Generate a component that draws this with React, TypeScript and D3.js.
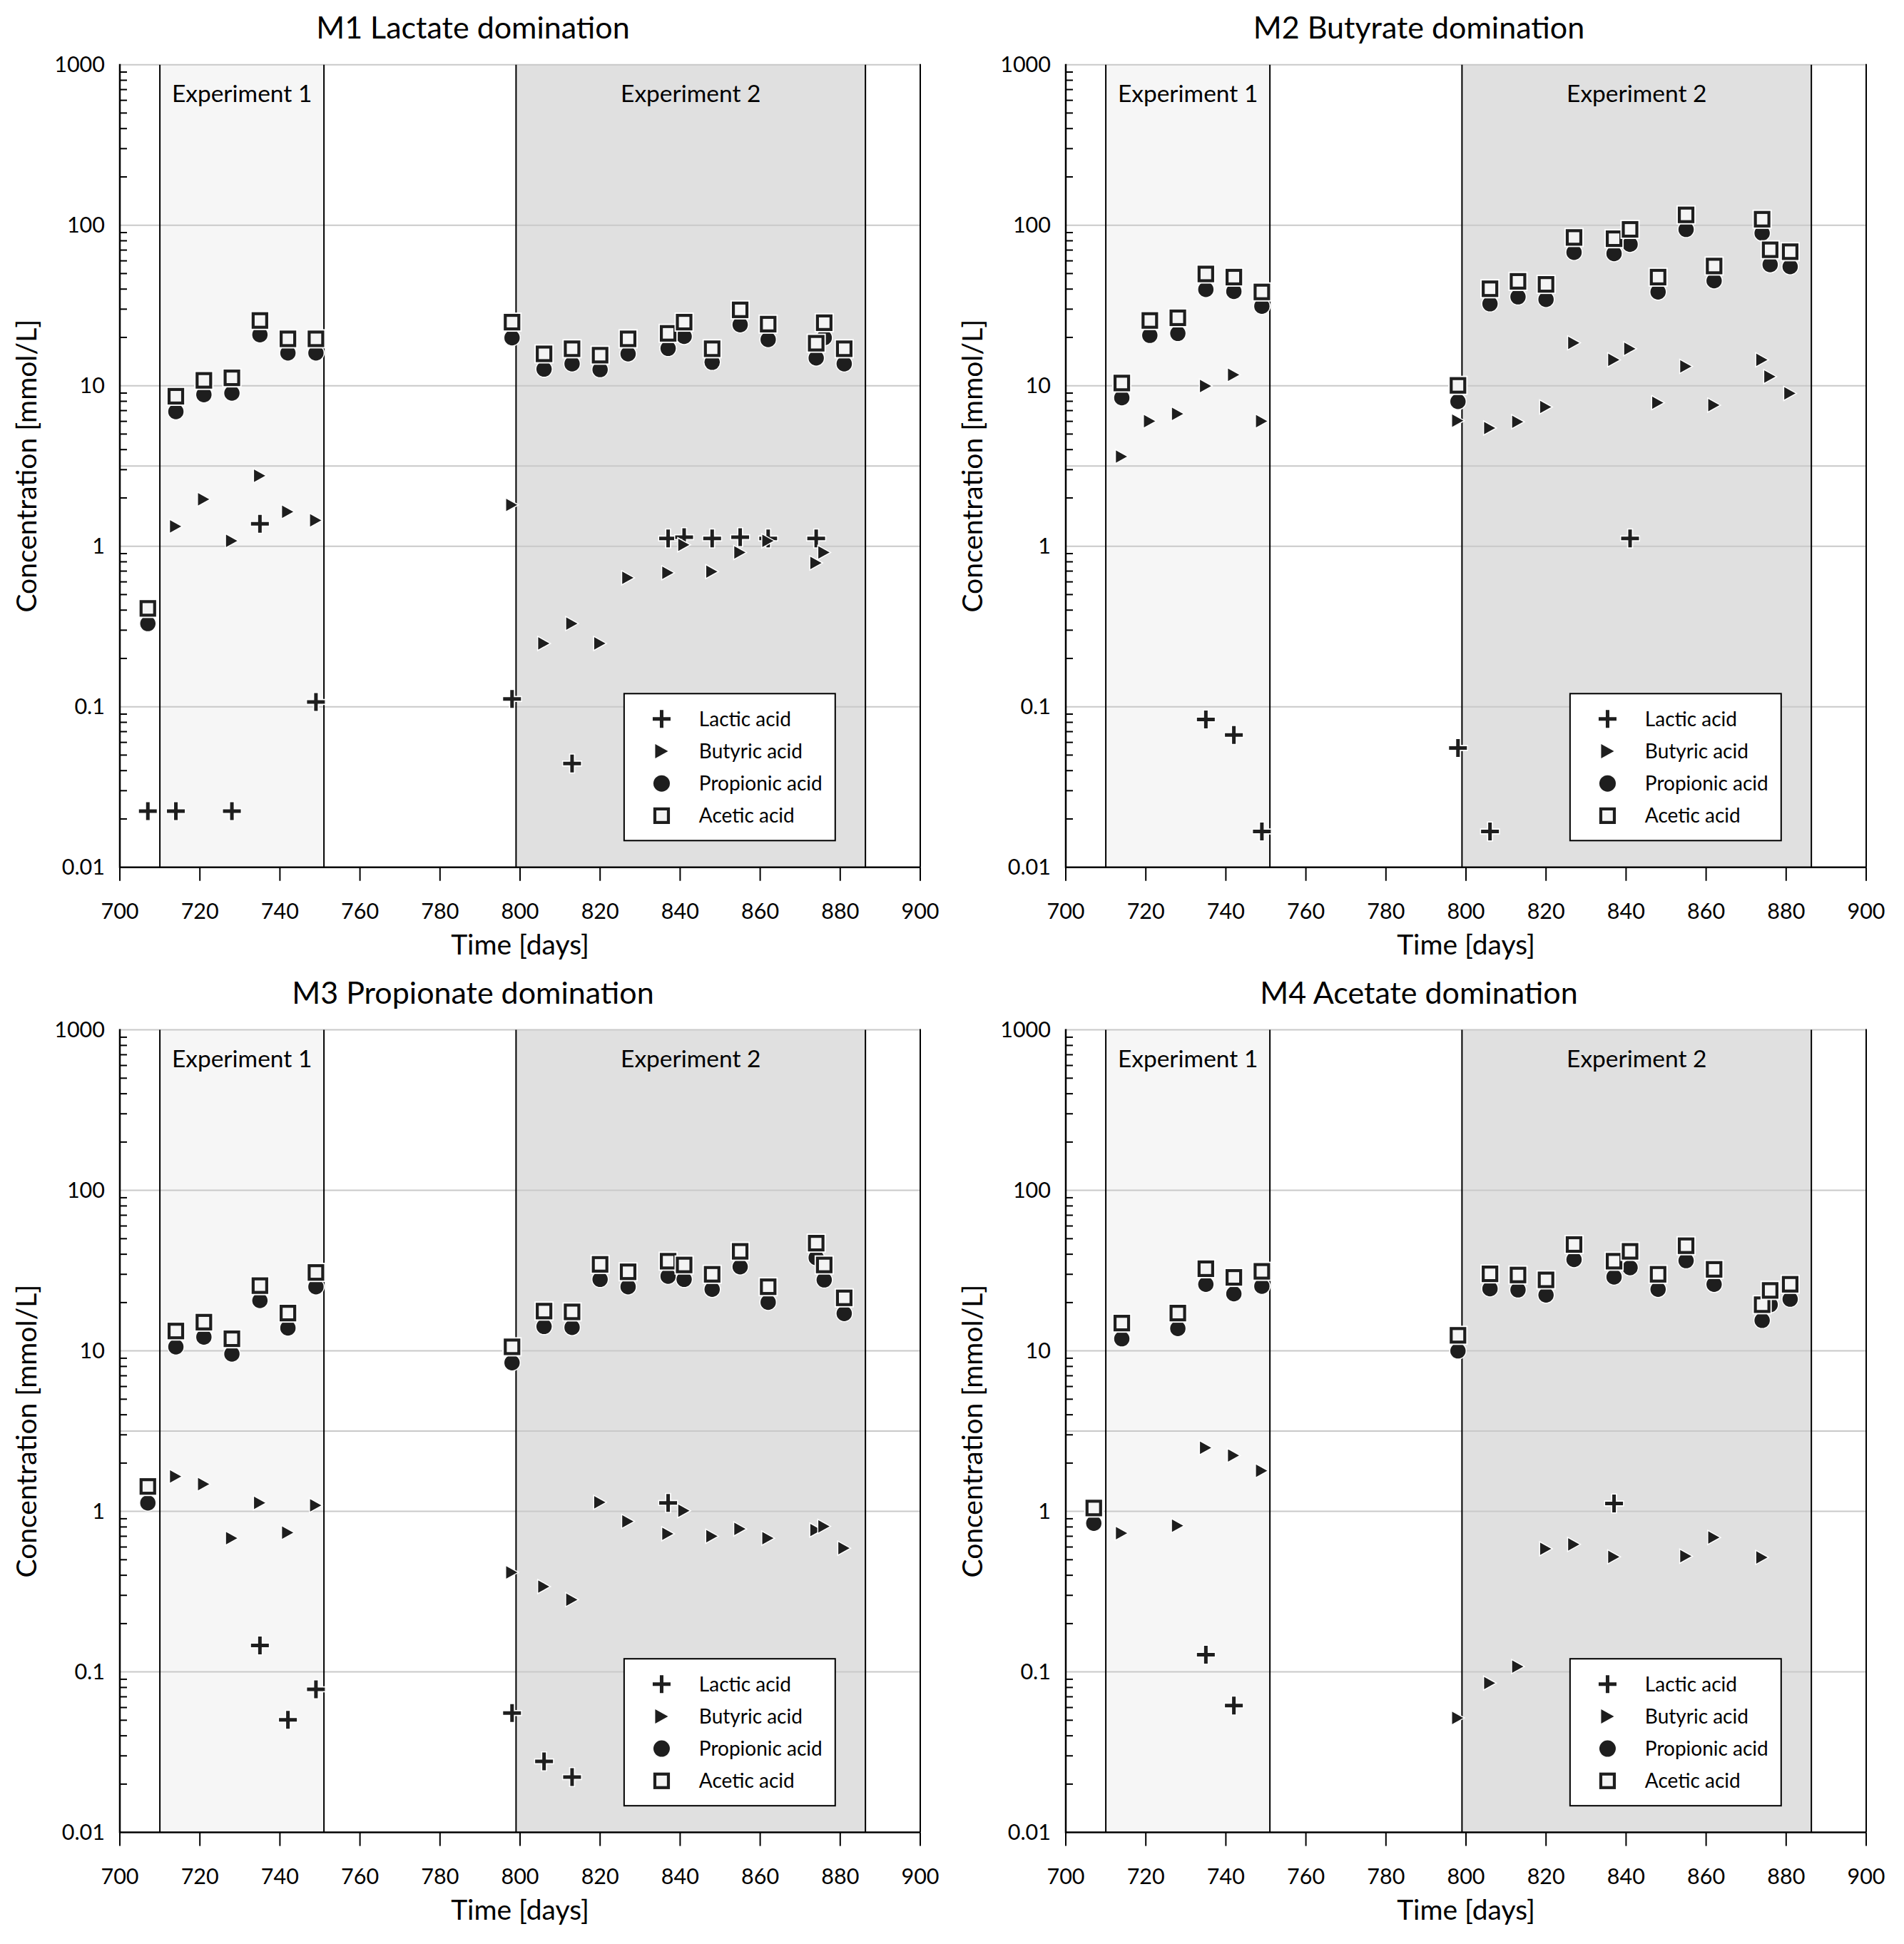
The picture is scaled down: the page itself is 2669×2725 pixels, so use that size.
import { useEffect } from "react";
import * as d3 from "d3";

// sampling days shared by every reactor (null = not measured / below detection)
const days = [707, 714, 721, 728, 735, 742, 749, 798, 806, 813, 820, 827, 837, 841, 848, 855, 862, 874, 876, 881];

const panelTitles = ["M1 Lactate domination", "M2 Butyrate domination", "M3 Propionate domination", "M4 Acetate domination"];
const seriesNames = ["Lactic acid", "Butyric acid", "Propionic acid", "Acetic acid"];
const xTicks = [700, 720, 740, 760, 780, 800, 820, 840, 860, 880, 900];
const yTickLabels = ["0.01", "0.1", "1", "10", "100", "1000"];

const expLabels = ["Experiment 1", "Experiment 2"];
const expStart = [710, 799];
const expEnd = [751, 886.3];

type V = number | null;

// M1
const m1Lactic: V[] = [0.0224, 0.0224, null, 0.0224, 1.38, null, 0.107, 0.112, null, 0.0443, null, null, 1.12, 1.14, 1.12, 1.14, 1.12, 1.12, null, null];
const m1Butyric: V[] = [null, 1.33, 1.96, 1.08, 2.75, 1.64, 1.45, 1.81, 0.248, 0.33, 0.248, 0.636, 0.683, 1.02, 0.695, 0.915, 1.08, 0.787, 0.915, null];
const m1Propionic: V[] = [0.33, 6.9, 8.8, 9.0, 20.8, 16.0, 16.0, 19.9, 12.7, 13.7, 12.6, 15.8, 17.1, 20.3, 14.0, 24.0, 19.4, 14.9, 19.9, 13.7];
const m1Acetic: V[] = [0.41, 8.6, 10.8, 11.2, 25.5, 19.6, 19.6, 24.9, 15.8, 17.0, 15.5, 19.6, 21.2, 24.9, 17.0, 29.7, 24.2, 18.4, 24.7, 17.0];

// M2
const m2Lactic: V[] = [null, null, null, null, 0.0833, 0.0667, 0.0167, 0.0554, 0.0167, null, null, null, null, 1.12, null, null, null, null, null, null];
const m2Butyric: V[] = [null, 3.62, 6.01, 6.68, 9.96, 11.7, 6.01, 6.06, 5.45, 5.96, 7.37, 18.5, 14.5, 17.0, 7.84, 13.2, 7.57, 14.5, 11.4, 8.96];
const m2Propionic: V[] = [null, 8.42, 20.6, 21.2, 39.8, 38.7, 31.3, 7.98, 32.4, 35.8, 34.5, 67.8, 66.6, 76.1, 38.4, 94.2, 45.1, 89.3, 56.8, 55.2];
const m2Acetic: V[] = [null, 10.4, 25.5, 26.5, 49.7, 47.5, 38.4, 10.05, 40.2, 44.7, 42.8, 83.9, 82.4, 94.2, 47.5, 116, 55.7, 109, 70.3, 68.4];

// M3
const m3Lactic: V[] = [null, null, null, null, 0.146, 0.0503, 0.0779, 0.0555, 0.0277, 0.0221, null, null, 1.13, null, null, null, null, null, null, null];
const m3Butyric: V[] = [null, 1.65, 1.48, 0.681, 1.13, 0.738, 1.09, 0.417, 0.34, 0.282, 1.14, 0.867, 0.725, 1.01, 0.7, 0.778, 0.681, 0.765, 0.807, 0.59];
const m3Propionic: V[] = [1.13, 10.6, 12.2, 9.57, 20.6, 13.9, 25.1, 8.44, 14.2, 14.0, 27.9, 25.1, 29.2, 27.9, 24.2, 33.4, 20.1, 38.1, 27.7, 17.1];
const m3Acetic: V[] = [1.43, 13.3, 15.1, 11.9, 25.5, 17.2, 30.8, 10.6, 17.7, 17.5, 34.6, 31.1, 36.2, 34.3, 30.0, 41.7, 25.1, 46.9, 34.3, 21.4];

// M4
const m4Lactic: V[] = [null, null, null, null, 0.128, 0.0618, null, null, null, null, null, null, 1.12, null, null, null, null, null, null, null];
const m4Butyric: V[] = [null, 0.732, null, 0.815, 2.49, 2.23, 1.79, 0.0517, 0.0852, 0.108, 0.585, 0.623, 0.521, null, null, 0.526, 0.688, 0.517, null, null];
const m4Propionic: V[] = [0.844, 11.9, null, 13.8, 26.0, 22.7, 25.3, 10.0, 24.4, 24.0, 22.3, 37.1, 28.9, 33.0, 24.2, 36.5, 26.0, 15.5, 19.4, 21.0];
const m4Acetic: V[] = [1.05, 14.9, null, 17.2, 32.5, 28.7, 31.3, 12.5, 30.2, 29.7, 27.7, 46.0, 36.2, 41.7, 30.0, 45.2, 32.2, 19.4, 23.8, 26.0];

const panelSeries = [
  [m1Lactic, m1Butyric, m1Propionic, m1Acetic],
  [m2Lactic, m2Butyric, m2Propionic, m2Acetic],
  [m3Lactic, m3Butyric, m3Propionic, m3Acetic],
  [m4Lactic, m4Butyric, m4Propionic, m4Acetic],
];

const W = 2669;
const H = 2725;
const FONT = "Lato, 'Open Sans', sans-serif";
const INK = "#1e1e1e";
const TEXT = "#000";
const GRID = "#c9c9c9";
const expFill = ["#f6f6f6", "#e0e0e0"];

const plotW = 1122;
const plotH = 1125;
const lefts = [168, 1494];
const tops = [90.7, 1443.6];

function Marker({ kind, x, y, halo = true }: { kind: number; x: number; y: number; halo?: boolean }) {
  if (kind === 0) {
    const a = 12.5;
    const d = `M${x - a},${y}H${x + a}M${x},${y - a}V${y + a}`;
    return (
      <g>
        {halo && <path d={`M${x - a - 1.5},${y}H${x + a + 1.5}M${x},${y - a - 1.5}V${y + a + 1.5}`} stroke="#fff" strokeWidth={8.5} />}
        <path d={d} stroke={INK} strokeWidth={5} />
      </g>
    );
  }
  if (kind === 1) {
    const w = 18, h = 20;
    return (
      <path
        d={`M${x - w / 2},${y - h / 2}L${x + w / 2},${y}L${x - w / 2},${y + h / 2}Z`}
        fill={INK}
        stroke={halo ? "#fff" : "none"}
        strokeWidth={1.5}
      />
    );
  }
  if (kind === 2) {
    return <circle cx={x} cy={y} r={11.5} fill={INK} stroke={halo ? "#fff" : "none"} strokeWidth={1.5} />;
  }
  const s = 19;
  return (
    <g>
      {halo && <rect x={x - s / 2} y={y - s / 2} width={s} height={s} fill="none" stroke="#fff" strokeWidth={8} />}
      <rect x={x - s / 2} y={y - s / 2} width={s} height={s} fill="#f4f4f4" stroke={INK} strokeWidth={4.2} />
    </g>
  );
}

function Panel({ idx }: { idx: number }) {
  const left = lefts[idx % 2];
  const top = tops[Math.floor(idx / 2)];
  const x = d3.scaleLinear().domain([700, 900]).range([left, left + plotW]);
  const y = d3.scaleLog().domain([0.01, 1000]).range([top + plotH, top]);
  const bottom = top + plotH;
  const majors = yTickLabels.map(Number);
  const minors = y.ticks().filter((t) => !majors.some((m) => Math.abs(m - t) / m < 1e-6));
  const series = panelSeries[idx];

  // legend box placed in data space (days 826–878.75)
  const lgX = x(826);
  const lgW = x(878.75) - lgX;
  const lgY = top + 881.6;
  const lgH = 206;

  return (
    <g fontFamily={FONT}>
      <text x={left + plotW / 2 - 66} y={top - 37} textAnchor="middle" fontSize={43} fill={TEXT}>
        {panelTitles[idx]}
      </text>

      {expLabels.map((_, i) => (
        <rect key={i} x={x(expStart[i])} y={top} width={x(expEnd[i]) - x(expStart[i])} height={plotH} fill={expFill[i]} />
      ))}

      {majors.slice(1).map((m) => (
        <line key={m} x1={left} x2={left + plotW} y1={y(m)} y2={y(m)} stroke={GRID} strokeWidth={2} />
      ))}
      <line x1={left} x2={left + plotW} y1={top + plotH / 2} y2={top + plotH / 2} stroke={GRID} strokeWidth={2} />

      {expLabels.map((_, i) => (
        <g key={i}>
          <line x1={x(expStart[i])} x2={x(expStart[i])} y1={top} y2={bottom} stroke="#000" strokeWidth={2} />
          <line x1={x(expEnd[i])} x2={x(expEnd[i])} y1={top} y2={bottom} stroke="#000" strokeWidth={2} />
          <text x={(x(expStart[i]) + x(expEnd[i])) / 2} y={top + 52} textAnchor="middle" fontSize={33.5} fill={TEXT}>
            {expLabels[i]}
          </text>
        </g>
      ))}

      {/* frame */}
      <line x1={left} x2={left} y1={top - 1} y2={bottom + 1} stroke="#000" strokeWidth={2.5} />
      <line x1={left + plotW} x2={left + plotW} y1={top - 1} y2={bottom} stroke="#000" strokeWidth={2} />
      <line x1={left - 1} x2={left + plotW} y1={bottom} y2={bottom} stroke="#000" strokeWidth={2.5} />

      {minors.map((t) => (
        <line key={t} x1={left} x2={left + 10} y1={y(t)} y2={y(t)} stroke="#000" strokeWidth={2} />
      ))}
      {yTickLabels.map((lab, i) => (
        <text key={lab} x={left - 21} y={y(majors[i])} dy="0.35em" textAnchor="end" fontSize={30.5} fill={TEXT}>
          {lab}
        </text>
      ))}

      {xTicks.map((t) => (
        <g key={t}>
          <line x1={x(t)} x2={x(t)} y1={bottom} y2={bottom + 19} stroke="#000" strokeWidth={2} />
          <text x={x(t)} y={bottom + 72} textAnchor="middle" fontSize={30.5} fill={TEXT}>
            {t}
          </text>
        </g>
      ))}

      <text x={left + plotW / 2} y={bottom + 122} textAnchor="middle" fontSize={39} fill={TEXT}>
        Time [days]
      </text>
      <text
        transform={`translate(${left - 117},${top + plotH / 2}) rotate(-90)`}
        textAnchor="middle"
        fontSize={39}
        fill={TEXT}
      >
        Concentration [mmol/L]
      </text>

      {series.map((vals, k) => (
        <g key={k}>
          {vals.map((v, i) => (v == null ? null : <Marker key={i} kind={k} x={x(days[i])} y={y(v)} />))}
        </g>
      ))}

      <rect x={lgX} y={lgY} width={lgW} height={lgH} fill="#fff" stroke="#000" strokeWidth={2} />
      {seriesNames.map((name, k) => {
        const cy = lgY + 35.5 + k * 45.2;
        return (
          <g key={name}>
            <Marker kind={k} x={lgX + 52.6} y={cy} halo={false} />
            <text x={lgX + 105} y={cy} dy="0.35em" fontSize={28} fill={TEXT}>
              {name}
            </text>
          </g>
        );
      })}
    </g>
  );
}

export default function App() {
  useEffect(() => {
    document.body.style.margin = "0";
  }, []);
  return (
    <svg width={W} height={H} viewBox={`0 0 ${W} ${H}`} style={{ display: "block", background: "#fff" }}>
      <rect width={W} height={H} fill="#fff" />
      {[0, 1, 2, 3].map((i) => (
        <Panel key={i} idx={i} />
      ))}
    </svg>
  );
}
